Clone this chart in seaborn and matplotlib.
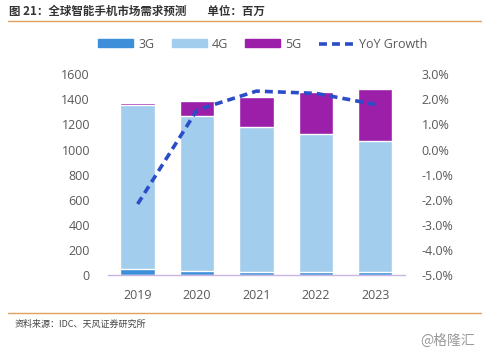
import numpy as np
import pandas as pd
import seaborn as sns
import matplotlib.pyplot as plt
from matplotlib.lines import Line2D
from matplotlib.patches import Patch
from matplotlib.ticker import FuncFormatter

# Data (millions of units)
years = ["2019", "2020", "2021", "2022", "2023"]
units_3g = [45, 34, 24, 24, 20]
units_4g = [1311, 1234, 1154, 1100, 1046]
units_5g = [13, 122, 244, 333, 415]
yoy_growth = [-2.17, 1.58, 2.33, 2.24, 1.80]

c3g = "#3C8FD8"
c4g = "#A3CDEC"
c5g = "#9C1FAA"
cline = "#2B4EC8"
grey = "#595959"

sns.set_theme(style="white")
plt.rcParams["font.family"] = ["Open Sans", "Noto Sans CJK SC", "DejaVu Sans"]

df = pd.DataFrame({"year": years, "g3": units_3g, "g4": units_4g, "g5": units_5g})
df["s34"] = df["g3"] + df["g4"]
df["total"] = df["s34"] + df["g5"]

fig = plt.figure(figsize=(4.82, 3.53), dpi=100)
ax = fig.add_axes([0.224, 0.221, 0.616, 0.5685])

sns.barplot(data=df, x="year", y="total", color=c5g, width=0.58, saturation=1, ax=ax)
sns.barplot(data=df, x="year", y="s34", color=c4g, width=0.58, saturation=1, ax=ax)
sns.barplot(data=df, x="year", y="g3", color=c3g, width=0.58, saturation=1, ax=ax)

ax.set_ylim(0, 1600)
ax.set_yticks(range(0, 1601, 200))
ax.set_xlim(-0.5, 4.5)
ax.set_xlabel("")
ax.set_ylabel("")
for s in ["top", "right", "left"]:
    ax.spines[s].set_visible(False)
ax.spines["bottom"].set_color("#C9B6E4")
ax.spines["bottom"].set_linewidth(1.0)
ax.tick_params(axis="x", length=0, labelsize=9, colors=grey, pad=10)
ax.tick_params(axis="y", length=0, labelsize=9, colors=grey, pad=13)

ax2 = ax.twinx()
sns.lineplot(x=np.arange(len(years)), y=yoy_growth, color=cline, lw=2.6,
             linestyle=(0, (2.2, 1.4)), ax=ax2)
ax2.set_ylim(-5, 3)
ax2.set_yticks(np.arange(-5, 3.1, 1))
ax2.yaxis.set_major_formatter(FuncFormatter(lambda v, p: f"{v:.1f}%"))
for s in ["top", "right", "left", "bottom"]:
    ax2.spines[s].set_visible(False)
ax2.tick_params(axis="y", length=0, labelsize=9, colors=grey, pad=12)

handles = [
    Patch(color=c3g, label="3G"),
    Patch(color=c4g, label="4G"),
    Patch(color=c5g, label="5G"),
    Line2D([0], [0], color=cline, lw=2.6, linestyle=(0, (2.2, 1.4)), label="YoY Growth"),
]
fig.legend(handles=handles, loc="center", bbox_to_anchor=(0.545, 0.875), ncol=4,
           frameon=False, fontsize=9, handlelength=2.8, handleheight=0.55,
           columnspacing=1.4, handletextpad=0.4, labelcolor=grey)

cjk = ["Noto Sans CJK SC", "DejaVu Sans"]
fig.text(0.018, 0.968, "图 21：全球智能手机市场需求预测        单位：百万", fontsize=8.3,
         fontweight="bold", color="#333333", va="center", family=cjk)
fig.add_artist(Line2D([0.017, 1.0], [0.94, 0.94], color="#E0A060", lw=1.0))
fig.add_artist(Line2D([0.017, 1.0], [0.113, 0.113], color="#E0A060", lw=1.0))
fig.text(0.03, 0.082, "资料来源：IDC、天风证券研究所", fontsize=6.5, color="#444444",
         va="center", family=cjk)
fig.text(0.985, 0.035, "@格隆汇", fontsize=10, color="#9A9A9A", ha="right",
         va="center", family=cjk)

fig.savefig("out.png", dpi=100)
